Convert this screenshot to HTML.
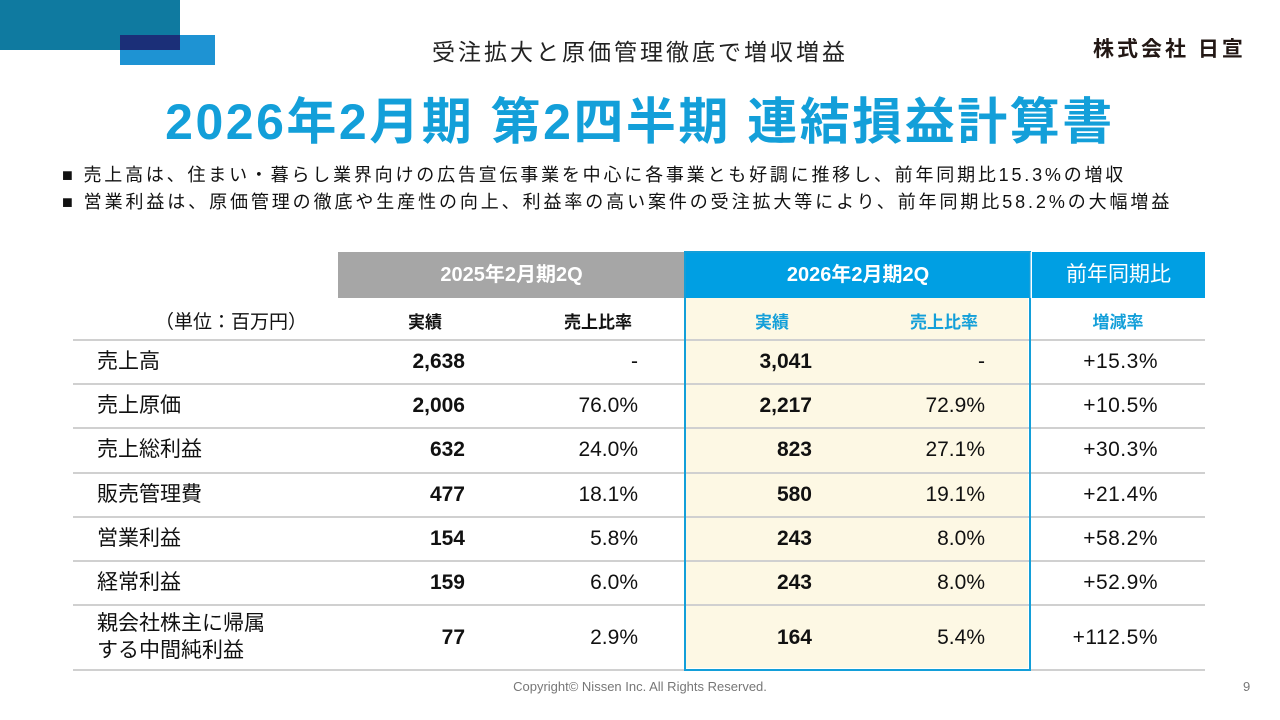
<!DOCTYPE html>
<html><head><meta charset="utf-8">
<style>
body{margin:0;width:1280px;height:720px;position:relative;background:#fff;overflow:hidden;font-family:"Liberation Sans","Noto Sans CJK JP",sans-serif;color:#111}
.a{position:absolute;white-space:nowrap}
.r{text-align:right}
.c{text-align:center}
</style></head><body>
<div class="a" style="left:0;top:0;width:180px;height:50px;background:#0f7aa0"></div>
<div class="a" style="left:120px;top:35px;width:95px;height:30px;background:#1e93d3"></div>
<div class="a" style="left:120px;top:35px;width:60px;height:15px;background:#1b2f78"></div>
<div class="a" style="left:0;width:1280px;top:33px;text-align:center;font-size:23px;letter-spacing:3px;color:#222">受注拡大と原価管理徹底で増収増益</div>
<div class="a" style="left:1093px;top:33px;font-size:21px;font-weight:bold;letter-spacing:3px;color:#231815">株式会社 日宣</div>
<div class="a" style="left:0;width:1280px;top:82px;text-align:center;font-size:50px;letter-spacing:2.5px;font-weight:bold;color:#139fd9">2026年2月期 第2四半期 連結損益計算書</div>
<div class="a" style="left:62px;top:161px;font-size:18px;letter-spacing:2.8px">■&nbsp;売上高は、住まい・暮らし業界向けの広告宣伝事業を中心に各事業とも好調に推移し、前年同期比15.3%の増収</div>
<div class="a" style="left:62px;top:188px;font-size:18px;letter-spacing:2.9px">■&nbsp;営業利益は、原価管理の徹底や生産性の向上、利益率の高い案件の受注拡大等により、前年同期比58.2%の大幅増益</div>

<div class="a" style="left:338px;top:252px;width:347px;height:46px;background:#a6a6a6;color:#fff;font-size:20px;line-height:46px;text-align:center;font-weight:bold">2025年2月期2Q</div>
<div class="a" style="left:685px;top:252px;width:346px;height:46px;background:#009fe3;color:#fff;font-size:20px;line-height:46px;text-align:center;font-weight:bold">2026年2月期2Q</div>
<div class="a" style="left:1032px;top:252px;width:173px;height:46px;background:#009fe3;color:#fff;font-size:21px;line-height:46px;text-align:center">前年同期比</div>
<div class="a" style="left:685px;top:298px;width:343px;height:370px;background:#fdf8e4"></div>
<div class="a" style="left:155px;top:307px;font-size:19px">（単位：百万円）</div>
<div class="a c" style="left:390px;width:70px;top:308px;font-size:17px;font-weight:bold">実績</div>
<div class="a c" style="left:548px;width:100px;top:308px;font-size:17px;font-weight:bold">売上比率</div>
<div class="a c" style="left:737px;width:70px;top:308px;font-size:17px;font-weight:bold;color:#139fd9">実績</div>
<div class="a c" style="left:894px;width:100px;top:308px;font-size:17px;font-weight:bold;color:#139fd9">売上比率</div>
<div class="a c" style="left:1068px;width:100px;top:308px;font-size:17px;font-weight:bold;color:#139fd9">増減率</div>
<div id="rows"></div>
<div class="a" style="left:684px;top:251px;width:343px;height:416px;border:2px solid #139fd9"></div>
<div class="a" style="left:1030px;top:252px;width:1px;height:46px;background:#7cc8ee"></div>
<div class="a" style="left:0;width:1280px;top:679px;text-align:center;font-size:13px;color:#777">Copyright© Nissen Inc. All Rights Reserved.</div>
<div class="a" style="left:1243px;top:679px;font-size:13px;color:#777">9</div>
<script>
const labels=["売上高","売上原価","売上総利益","販売管理費","営業利益","経常利益","親会社株主に帰属<br>する中間純利益"];
const actual2025=["2,638","2,006","632","477","154","159","77"];
const ratio2025=["-","76.0%","24.0%","18.1%","5.8%","6.0%","2.9%"];
const actual2026=["3,041","2,217","823","580","243","243","164"];
const ratio2026=["-","72.9%","27.1%","19.1%","8.0%","8.0%","5.4%"];
const changes=["+15.3%","+10.5%","+30.3%","+21.4%","+58.2%","+52.9%","+112.5%"];
const host=document.getElementById('rows');
function cell(html,left,w,top,h,style){const d=document.createElement('div');d.className='a';d.innerHTML=html;d.style.cssText=`left:${left}px;width:${w}px;top:${top}px;height:${h}px;display:flex;align-items:center;font-size:21px;${style}`;host.appendChild(d);return d;}
function line(top){const d=document.createElement('div');d.className='a';d.style.cssText=`left:73px;width:1132px;top:${top}px;height:2px;background:#d0d0d0`;


host.appendChild(d);}
let y=340;line(y-1);
labels.forEach((lab,i)=>{const h=i===6?65:44.2;
let e=cell(lab,97,230,y,h,'line-height:1.25');


e=cell(actual2025[i],360,105,y,h,'justify-content:flex-end;font-weight:bold');


e=cell(ratio2025[i],520,118,y,h,'justify-content:flex-end');


e=cell(actual2026[i],700,112,y,h,'justify-content:flex-end;font-weight:bold');


e=cell(ratio2026[i],860,125,y,h,'justify-content:flex-end');


e=cell(changes[i],1040,118,y,h,'justify-content:flex-end;letter-spacing:0.5px');


y+=h;line(y-1);});
</script>
</body></html>
